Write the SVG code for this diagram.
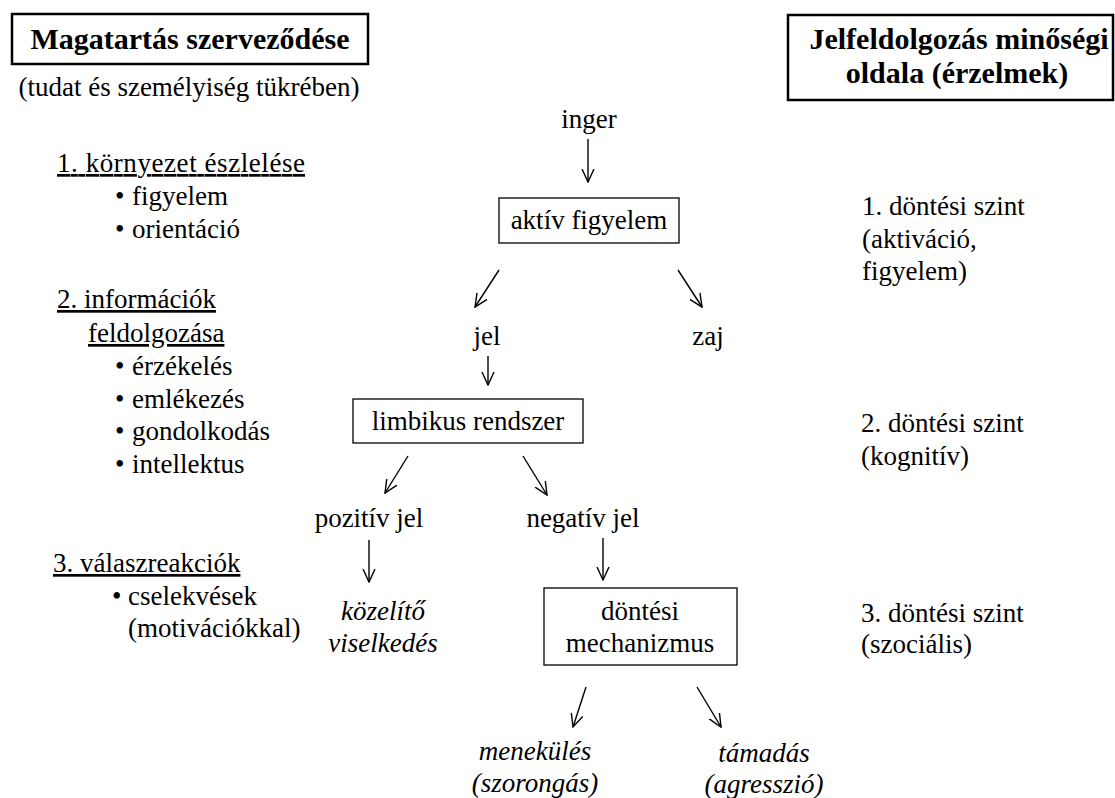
<svg xmlns="http://www.w3.org/2000/svg" width="1115" height="798" viewBox="0 0 1115 798">
<style>
text{font-family:'Liberation Serif',serif;font-size:27px;fill:#000}
.t{font-weight:bold;font-size:30px;text-anchor:middle}
.c{text-anchor:middle}
.i{font-style:italic;text-anchor:middle}
.u{text-decoration:underline}
.tb{fill:none;stroke:#000;stroke-width:2.5}
.nb{fill:#fff;stroke:#000;stroke-width:1.3}
.ar{fill:none;stroke:#000;stroke-width:1.4;marker-end:url(#ah)}
</style>
<defs>
<marker id="ah" viewBox="0 0 14 14" refX="13" refY="7" markerWidth="14" markerHeight="14" markerUnits="userSpaceOnUse" orient="auto">
<path d="M0,1 L13,7 L0,13" fill="none" stroke="#000" stroke-width="1.4"/>
</marker>
</defs>
<rect width="1115" height="798" fill="#fff"/>

<g id="title-left">
<rect class="tb" x="12" y="14" width="356" height="50"/>
<text class="t" x="190" y="49">Magatartás szerveződése</text>
<text class="c" x="189" y="96">(tudat és személyiség tükrében)</text>
</g>

<g id="title-right">
<rect class="tb" x="788" y="15" width="325" height="85"/>
<text class="t" x="959" y="49">Jelfeldolgozás minőségi</text>
<text class="t" x="957" y="83">oldala (érzelmek)</text>
</g>

<g id="left-list">
<text class="u" x="57" y="172" textLength="248">1. környezet észlelése</text>
<text x="115" y="205">•</text><text x="132" y="205">figyelem</text>
<text x="115" y="238">•</text><text x="132" y="238">orientáció</text>
<text class="u" x="57" y="308">2. információk</text>
<text class="u" x="88" y="342">feldolgozása</text>
<text x="115" y="375">•</text><text x="132" y="375">érzékelés</text>
<text x="115" y="408">•</text><text x="132" y="408">emlékezés</text>
<text x="115" y="440">•</text><text x="132" y="440">gondolkodás</text>
<text x="115" y="473">•</text><text x="132" y="473">intellektus</text>
<text class="u" x="53" y="572">3. válaszreakciók</text>
<text x="112" y="605">•</text><text x="128" y="605">cselekvések</text>
<text x="128" y="637">(motivációkkal)</text>
</g>

<g id="right-list">
<text x="862" y="215">1. döntési szint</text>
<text x="862" y="248">(aktiváció,</text>
<text x="862" y="280">figyelem)</text>
<text x="861" y="432">2. döntési szint</text>
<text x="861" y="465">(kognitív)</text>
<text x="861" y="622">3. döntési szint</text>
<text x="861" y="653">(szociális)</text>
</g>

<g id="inger"><text class="c" x="589" y="128">inger</text></g>
<g id="aktiv-figyelem">
<rect class="nb" x="499" y="198" width="180" height="45"/>
<text class="c" x="589" y="229">aktív figyelem</text>
</g>
<g id="jel"><text class="c" x="487" y="345">jel</text></g>
<g id="zaj"><text class="c" x="708" y="345">zaj</text></g>
<g id="limbikus-rendszer">
<rect class="nb" x="353" y="399" width="230" height="44"/>
<text class="c" x="468" y="430">limbikus rendszer</text>
</g>
<g id="pozitiv-jel"><text class="c" x="369" y="527">pozitív jel</text></g>
<g id="negativ-jel"><text class="c" x="583" y="527">negatív jel</text></g>
<g id="kozelito">
<text class="i" x="383" y="620">közelítő</text>
<text class="i" x="383" y="652">viselkedés</text>
</g>
<g id="dontesi-mechanizmus">
<rect class="nb" x="544" y="588" width="193" height="77"/>
<text class="c" x="640" y="620">döntési</text>
<text class="c" x="640" y="652">mechanizmus</text>
</g>
<g id="menekules">
<text class="i" x="535" y="760">menekülés</text>
<text class="i" x="535" y="792">(szorongás)</text>
</g>
<g id="tamadas">
<text class="i" x="764" y="762">támadás</text>
<text class="i" x="764" y="793">(agresszió)</text>
</g>

<g id="connectors">
<line class="ar" x1="588" y1="139" x2="588" y2="182"/>
<line class="ar" x1="499" y1="270" x2="475" y2="307"/>
<line class="ar" x1="678" y1="270" x2="702" y2="307"/>
<line class="ar" x1="488" y1="356" x2="488" y2="385"/>
<line class="ar" x1="408" y1="456" x2="385" y2="493"/>
<line class="ar" x1="523" y1="456" x2="547" y2="495"/>
<line class="ar" x1="369" y1="540" x2="369" y2="582"/>
<line class="ar" x1="603" y1="538" x2="603" y2="580"/>
<line class="ar" x1="586" y1="687" x2="573" y2="727"/>
<line class="ar" x1="697" y1="687" x2="721" y2="727"/>
</g>
</svg>
